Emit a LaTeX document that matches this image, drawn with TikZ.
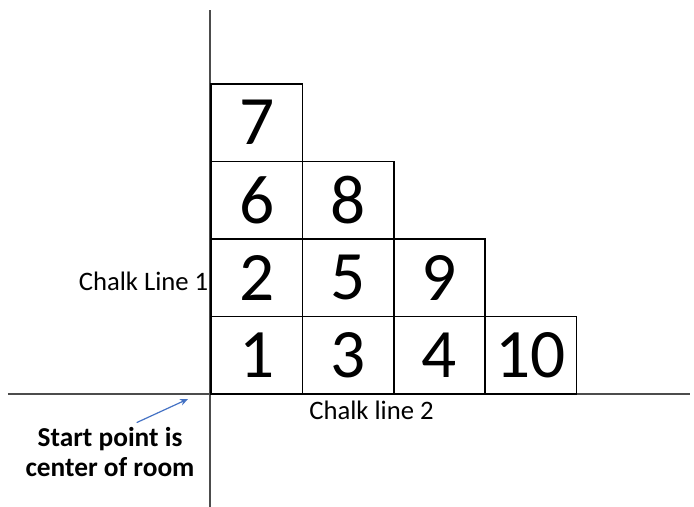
\documentclass[tikz,border=0pt]{standalone}
\usepackage{fontspec}
\setmainfont{Carlito}
\usetikzlibrary{arrows.meta}
\definecolor{arrowblue}{RGB}{68,114,196}
\begin{document}
\begin{tikzpicture}[x=0.75pt,y=0.75pt,
  tile/.style={draw=black,line width=1.1pt,minimum width=68.6pt,minimum height=58.1pt,inner sep=0pt,font=\fontsize{52}{52}\selectfont},
  chalk/.style={font=\fontsize{20}{23}\selectfont},
  startlabel/.style={font=\fontsize{20.5}{22.5}\selectfont\bfseries,align=center}]
\useasboundingbox (-210,-113) rectangle (484,394);
\draw[line width=1.5pt,color=black!70] (-202,0) -- (480,0);
\draw[line width=1.5pt,color=black!70] (0,-113) -- (0,384);
\foreach \n/\c/\r in {1/0/0,3/1/0,4/2/0,10/3/0,2/0/1,5/1/1,9/2/1,6/0/2,8/1/2,7/0/3}
  \node[tile] (t\n) at ({1+91.4*(\c+0.5)},{77.5*(\r+0.5)}) {\n};
\node[chalk,anchor=east] (line1) at (3,113) {Chalk Line 1};
\node[chalk] (line2) at (161.5,-16.5) {Chalk line 2};
\node[startlabel] (start) at (-100,-58) {Start point is\\center of room};
\coordinate (origin) at (-22,-5);
\draw[-{Stealth[length=6pt,width=5pt]},line width=0.9pt,color=arrowblue] ([xshift=20pt]start.north) -- (origin);
\end{tikzpicture}
\end{document}
